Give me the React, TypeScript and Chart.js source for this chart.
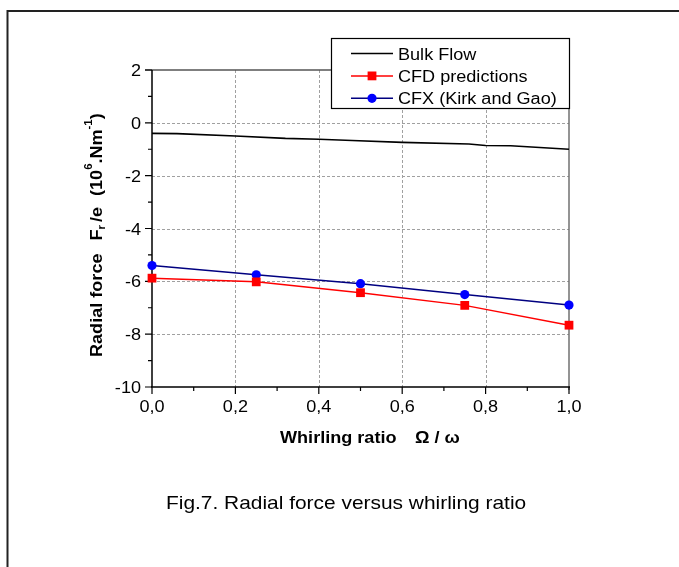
import React, { useEffect, useRef } from "react";
import { Chart, registerables } from "chart.js";

Chart.register(...registerables);

// ---- data ----
const bulkX = [0, 0.06, 0.2, 0.32, 0.4, 0.48, 0.6, 0.76, 0.8, 0.86, 1.0];
const bulkY = [-0.4, -0.41, -0.5, -0.59, -0.62, -0.67, -0.74, -0.8, -0.86, -0.87, -1.0];
const ratioX = [0, 0.25, 0.5, 0.75, 1.0];
const cfdY = [-5.88, -6.02, -6.43, -6.91, -7.66];
const cfxY = [-5.4, -5.75, -6.09, -6.5, -6.9];
const seriesNames = ["Bulk Flow", "CFD predictions", "CFX (Kirk and Gao)"];

const xMajor = [0, 0.2, 0.4, 0.6, 0.8, 1.0];
const xMinor = [0.1, 0.3, 0.5, 0.7, 0.9];
const xTickLabels = ["0,0", "0,2", "0,4", "0,6", "0,8", "1,0"];
const yMajor = [2, 0, -2, -4, -6, -8, -10];
const yMinor = [1, -1, -3, -5, -7, -9];
const yTickLabels = ["2", "0", "-2", "-4", "-6", "-8", "-10"];

const captionText = "Fig.7. Radial force versus whirling ratio";
const xTitle = "Whirling ratio";
const xTitleSym = "Ω / ω";

const FAM = "'Liberation Sans', Arial, Helvetica, sans-serif";
const SX = 1.13;

function txt(
  ctx: CanvasRenderingContext2D,
  s: string,
  x: number,
  y: number,
  font: string,
  align: "left" | "center" | "right" = "left",
  sx = SX
) {
  ctx.save();
  ctx.font = font;
  const w = ctx.measureText(s).width * sx;
  const x0 = align === "center" ? x - w / 2 : align === "right" ? x - w : x;
  ctx.translate(x0, y);
  ctx.scale(sx, 1);
  ctx.textAlign = "left";
  ctx.textBaseline = "alphabetic";
  ctx.fillStyle = "#000";
  ctx.fillText(s, 0, 0);
  ctx.restore();
  return w;
}

const decor = {
  id: "decor",
  beforeDatasetsDraw(chart: any) {
    const ctx: CanvasRenderingContext2D = chart.ctx;
    const xs = chart.scales.x;
    const ys = chart.scales.y;
    const { left, right, top, bottom } = chart.chartArea;

    // grid lines
    ctx.save();
    ctx.strokeStyle = "#a0a0a0";
    ctx.lineWidth = 1;
    ctx.setLineDash([3, 2]);
    xMajor.forEach((v) => {
      if (v === xs.min || v === xs.max) return;
      const px = Math.round(xs.getPixelForValue(v)) + 0.5;
      ctx.beginPath();
      ctx.moveTo(px, top);
      ctx.lineTo(px, bottom);
      ctx.stroke();
    });
    yMajor.forEach((v) => {
      if (v === ys.min || v === ys.max) return;
      const py = Math.round(ys.getPixelForValue(v)) + 0.5;
      ctx.beginPath();
      ctx.moveTo(left, py);
      ctx.lineTo(right, py);
      ctx.stroke();
    });
    ctx.restore();

    // frame of plot
    ctx.save();
    ctx.setLineDash([]);
    ctx.strokeStyle = "#555";
    ctx.lineWidth = 1.5;
    ctx.beginPath();
    ctx.moveTo(left - 7, top);
    ctx.lineTo(right, top);
    ctx.stroke();
    ctx.strokeStyle = "#707070";
    ctx.beginPath();
    ctx.moveTo(right, top - 2);
    ctx.lineTo(right, bottom + 3);
    ctx.stroke();

    ctx.strokeStyle = "#000";
    ctx.lineWidth = 1.5;
    ctx.beginPath();
    ctx.moveTo(left, top);
    ctx.lineTo(left, bottom);
    ctx.moveTo(left - 1, bottom);
    ctx.lineTo(right + 1, bottom);
    ctx.stroke();

    // ticks
    ctx.lineWidth = 1.2;
    ctx.beginPath();
    xMajor.forEach((v) => {
      const px = xs.getPixelForValue(v);
      ctx.moveTo(px, bottom);
      ctx.lineTo(px, bottom + 7);
    });
    xMinor.forEach((v) => {
      const px = xs.getPixelForValue(v);
      ctx.moveTo(px, bottom);
      ctx.lineTo(px, bottom + 4);
    });
    yMajor.forEach((v) => {
      const py = ys.getPixelForValue(v);
      ctx.moveTo(left, py);
      ctx.lineTo(left - 7, py);
    });
    yMinor.forEach((v) => {
      const py = ys.getPixelForValue(v);
      ctx.moveTo(left, py);
      ctx.lineTo(left - 4, py);
    });
    ctx.stroke();
    ctx.restore();

    // tick labels
    const tickFont = `16px ${FAM}`;
    xMajor.forEach((v, i) => {
      txt(ctx, xTickLabels[i], xs.getPixelForValue(v), bottom + 25, tickFont, "center");
    });
    yMajor.forEach((v, i) => {
      txt(ctx, yTickLabels[i], left - 11, ys.getPixelForValue(v) + 6, tickFont, "right");
    });

    // x title
    const bold = `bold 16px ${FAM}`;
    txt(ctx, xTitle, 280, 443, bold, "left");
    txt(ctx, xTitleSym, 415, 443, bold, "left");

    // y title (rotated, with sub/superscripts)
    ctx.save();
    ctx.translate(102, 357);
    ctx.rotate(-Math.PI / 2);
    const segs: [string, number, number, number][] = [
      ["Radial force", 16, 0, 13],
      ["F", 16, 0, 0],
      ["r", 10, 3, 3],
      ["/e", 16, 0, 11],
      ["(10", 16, 0, 0],
      ["6", 10, -10, 0],
      [".Nm", 16, 0, 0],
      ["-1", 10, -10, 0],
      [")", 16, 0, 0],
    ];
    let pos = 0;
    segs.forEach(([s, size, shift, gap]) => {
      const w = txt(ctx, s, pos, shift, `bold ${size}px ${FAM}`, "left");
      pos += w + gap;
    });
    ctx.restore();

    // caption
    txt(ctx, captionText, 166, 508.5, `18.5px ${FAM}`, "left");

    // outer frame
    ctx.save();
    ctx.strokeStyle = "#222";
    ctx.lineWidth = 2;
    ctx.beginPath();
    ctx.moveTo(7.5, 600);
    ctx.lineTo(7.5, 11);
    ctx.lineTo(700, 11);
    ctx.stroke();
    ctx.restore();
  },
  afterDatasetsDraw(chart: any) {
    const ctx: CanvasRenderingContext2D = chart.ctx;
    // legend box
    const bx = 331,
      by = 38,
      bw = 238,
      bh = 70;
    ctx.save();
    ctx.fillStyle = "#fff";
    ctx.fillRect(bx, by, bw, bh);
    ctx.strokeStyle = "#000";
    ctx.lineWidth = 1.2;
    ctx.strokeRect(bx + 0.5, by + 0.5, bw, bh);
    chart.data.datasets.forEach((ds: any, i: number) => {
      const ry = 53.5 + i * 22.4;
      ctx.strokeStyle = ds.borderColor;
      ctx.lineWidth = 1.5;
      ctx.beginPath();
      ctx.moveTo(351, ry);
      ctx.lineTo(393, ry);
      ctx.stroke();
      if (ds.pointRadius > 0) {
        ctx.fillStyle = ds.pointBackgroundColor;
        if (ds.pointStyle === "rect") {
          ctx.fillRect(372 - 4.4, ry - 4.4, 8.8, 8.8);
        } else {
          ctx.beginPath();
          ctx.arc(372, ry, 4.6, 0, Math.PI * 2);
          ctx.fill();
        }
      }
      txt(ctx, ds.label, 398, ry + 6, `16px ${FAM}`, "left");
    });
    ctx.restore();
  },
};

export default function App() {
  const ref = useRef<HTMLCanvasElement | null>(null);
  useEffect(() => {
    document.body.style.margin = "0";
    const canvas = ref.current;
    if (!canvas) return;
    const chart = new Chart(canvas, {
      type: "line",
      data: {
        datasets: [
          {
            label: seriesNames[0],
            data: bulkX.map((x, i) => ({ x, y: bulkY[i] })),
            borderColor: "#000000",
            backgroundColor: "#000000",
            borderWidth: 1.6,
            pointRadius: 0,
            tension: 0,
            clip: false as any,
          },
          {
            label: seriesNames[1],
            data: ratioX.map((x, i) => ({ x, y: cfdY[i] })),
            borderColor: "#ff0000",
            backgroundColor: "#ff0000",
            pointBackgroundColor: "#ff0000",
            pointBorderColor: "#ff0000",
            borderWidth: 1.5,
            pointStyle: "rect",
            pointRadius: 6.2,
            pointBorderWidth: 0,
            tension: 0,
            clip: false as any,
          },
          {
            label: seriesNames[2],
            data: ratioX.map((x, i) => ({ x, y: cfxY[i] })),
            borderColor: "#000080",
            backgroundColor: "#0000ff",
            pointBackgroundColor: "#0000ff",
            pointBorderColor: "#0000ff",
            borderWidth: 1.5,
            pointStyle: "circle",
            pointRadius: 4.6,
            pointBorderWidth: 0,
            tension: 0,
            clip: false as any,
          },
        ],
      },
      options: {
        animation: false,
        responsive: false,
        maintainAspectRatio: false,
        devicePixelRatio: 1,
        layout: { padding: { left: 152, top: 70, right: 110, bottom: 180 } },
        plugins: { legend: { display: false }, tooltip: { enabled: false } },
        scales: {
          x: { type: "linear", min: 0, max: 1, display: false },
          y: { type: "linear", min: -10, max: 2, display: false },
        },
      },
      plugins: [decor],
    });
    return () => chart.destroy();
  }, []);
  return (
    <div style={{ position: "absolute", left: 0, top: 0, width: 679, height: 567, background: "#fff" }}>
      <canvas ref={ref} width={679} height={567} style={{ width: 679, height: 567, display: "block" }} />
    </div>
  );
}
